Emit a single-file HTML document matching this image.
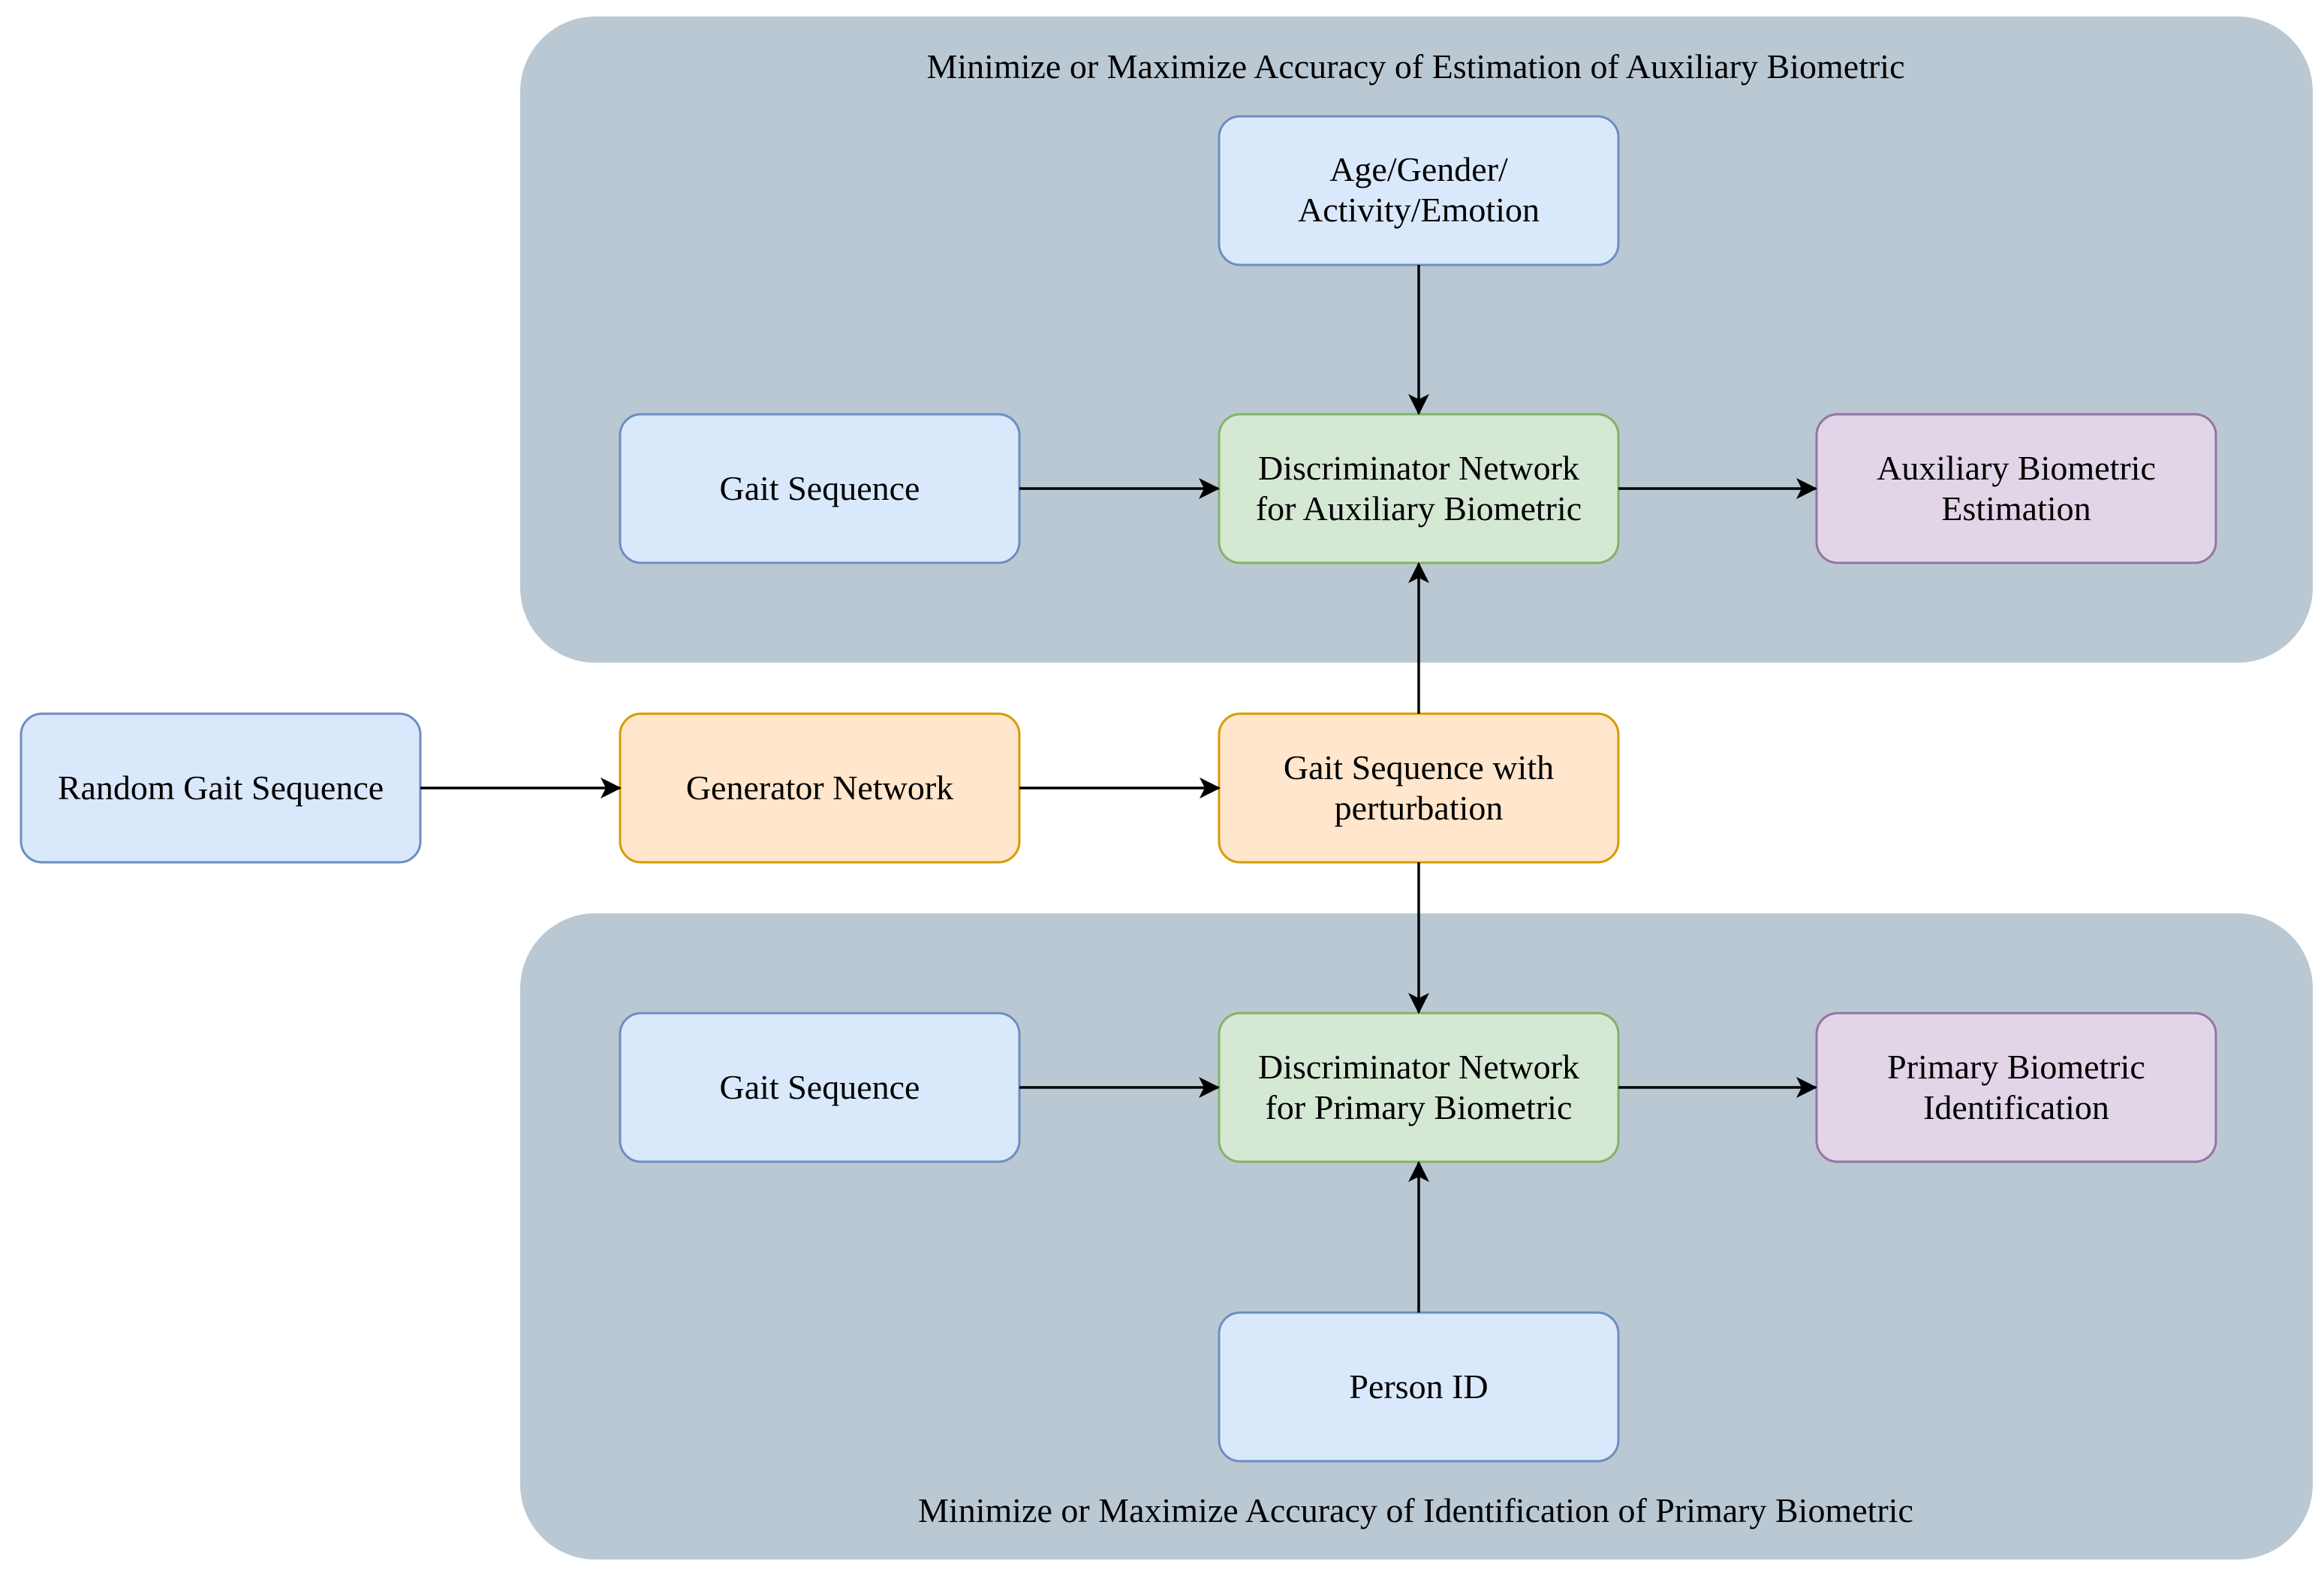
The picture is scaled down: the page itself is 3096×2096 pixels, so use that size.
<!DOCTYPE html>
<html><head><meta charset="utf-8"><style>html,body{margin:0;padding:0;background:#fff}svg{display:block}</style></head>
<body>
<svg width="3096" height="2096" viewBox="0 0 3096 2096" xmlns="http://www.w3.org/2000/svg" font-family="Liberation Serif, serif" font-size="46">
<defs>
<marker id="b" markerWidth="28" markerHeight="28" refX="26" refY="14" orient="auto" markerUnits="userSpaceOnUse"><path d="M0,0 L28,14 L0,28 L7,14 Z" fill="#000"/></marker></defs>
<rect x="693" y="22" width="2388" height="861" rx="100" fill="#bac8d3"/>
<rect x="693" y="1217" width="2388" height="861" rx="100" fill="#bac8d3"/>
<text x="1886" y="104" text-anchor="middle">Minimize or Maximize Accuracy of Estimation of Auxiliary Biometric</text>
<text x="1886" y="2028" text-anchor="middle">Minimize or Maximize Accuracy of Identification of Primary Biometric</text>
<g stroke-width="3">
<rect x="1624" y="155" width="532" height="198" rx="28" fill="#dae8fc" stroke="#6c8ebf"/>
<rect x="826" y="552" width="532" height="198" rx="28" fill="#dae8fc" stroke="#6c8ebf"/>
<rect x="1624" y="552" width="532" height="198" rx="28" fill="#d5e8d4" stroke="#82b366"/>
<rect x="2420" y="552" width="532" height="198" rx="28" fill="#e1d5e7" stroke="#9673a6"/>
<rect x="28" y="951" width="532" height="198" rx="28" fill="#dae8fc" stroke="#6c8ebf"/>
<rect x="826" y="951" width="532" height="198" rx="28" fill="#ffe6cc" stroke="#d79b00"/>
<rect x="1624" y="951" width="532" height="198" rx="28" fill="#ffe6cc" stroke="#d79b00"/>
<rect x="826" y="1350" width="532" height="198" rx="28" fill="#dae8fc" stroke="#6c8ebf"/>
<rect x="1624" y="1350" width="532" height="198" rx="28" fill="#d5e8d4" stroke="#82b366"/>
<rect x="2420" y="1350" width="532" height="198" rx="28" fill="#e1d5e7" stroke="#9673a6"/>
<rect x="1624" y="1749" width="532" height="198" rx="28" fill="#dae8fc" stroke="#6c8ebf"/>
</g>
<g stroke="#000" stroke-width="3.5" marker-end="url(#b)" fill="none">
<line x1="560" y1="1050" x2="826" y2="1050"/>
<line x1="1358" y1="1050" x2="1624" y2="1050"/>
<line x1="1890" y1="951" x2="1890" y2="751"/>
<line x1="1890" y1="1149" x2="1890" y2="1349"/>
<line x1="1890" y1="353" x2="1890" y2="551"/>
<line x1="1358" y1="651" x2="1623" y2="651"/>
<line x1="2156" y1="651" x2="2419" y2="651"/>
<line x1="1358" y1="1449" x2="1623" y2="1449"/>
<line x1="2156" y1="1449" x2="2419" y2="1449"/>
<line x1="1890" y1="1749" x2="1890" y2="1549"/>
</g>
<g text-anchor="middle">
<text x="1890" y="241">Age/Gender/</text><text x="1890" y="295">Activity/Emotion</text>
<text x="1092" y="666">Gait Sequence</text>
<text x="1890" y="639">Discriminator Network</text><text x="1890" y="693">for Auxiliary Biometric</text>
<text x="2686" y="639">Auxiliary Biometric</text><text x="2686" y="693">Estimation</text>
<text x="294" y="1065">Random Gait Sequence</text>
<text x="1092" y="1065">Generator Network</text>
<text x="1890" y="1038">Gait Sequence with</text><text x="1890" y="1092">perturbation</text>
<text x="1092" y="1464">Gait Sequence</text>
<text x="1890" y="1437">Discriminator Network</text><text x="1890" y="1491">for Primary Biometric</text>
<text x="2686" y="1437">Primary Biometric</text><text x="2686" y="1491">Identification</text>
<text x="1890" y="1863">Person ID</text>
</g>
</svg>
</body></html>
